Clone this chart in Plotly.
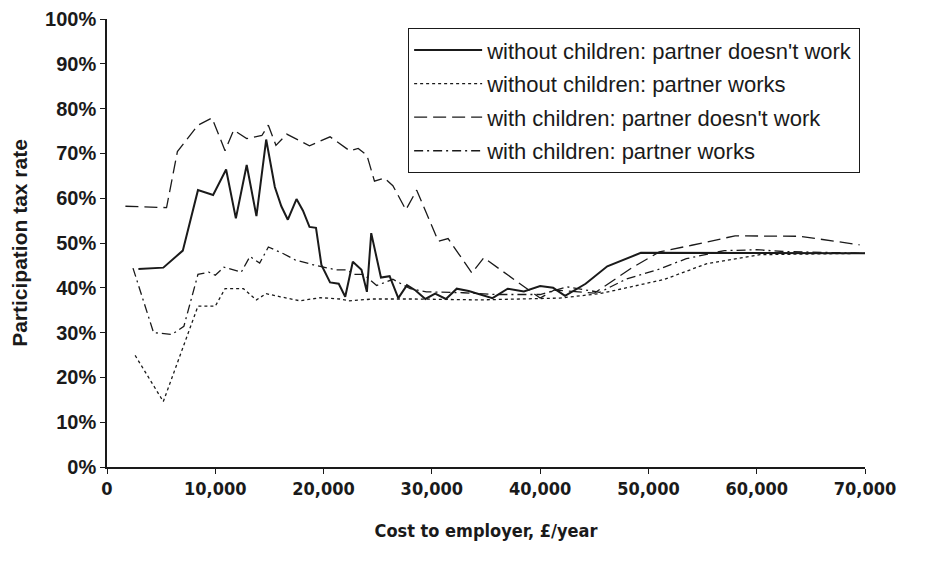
import plotly.graph_objects as go

# cost to employer (£/year) and participation tax rate (%)
nc_nowork_x = [2900, 5200, 7000, 8400, 9800, 11000, 11900, 12900, 13800, 14700, 15500, 16100,
               16700, 17500, 18100, 18700, 19300, 19800, 20600, 21400, 22000, 22700, 23500,
               24000, 24400, 25300, 26100, 26900, 27700, 28500, 29400, 30300, 31300, 32300,
               33400, 34300, 35600, 37000, 38500, 40000, 41200, 42300, 44200, 46200, 49300, 70000]
nc_nowork_y = [44.2, 44.5, 48.3, 61.8, 60.7, 66.4, 55.5, 67.4, 56.0, 73.1, 62.5, 58.2,
               55.2, 59.8, 57.2, 53.6, 53.4, 45.1, 41.2, 40.9, 38.0, 45.8, 44.0,
               39.1, 52.2, 42.3, 42.6, 37.7, 40.6, 39.4, 37.5, 38.7, 37.5, 39.8,
               39.3, 38.7, 37.7, 39.8, 39.2, 40.4, 40.0, 38.2, 40.9, 44.8, 47.8, 47.7]

nc_work_x = [2600, 5200, 8400, 10000, 10900, 12600, 13800, 14700, 16000, 17800, 19700, 21500,
             22400, 24600, 28300, 34400, 41800, 45500, 47600, 51500, 55400, 60300, 70000]
nc_work_y = [24.9, 14.6, 35.9, 35.9, 39.8, 39.8, 37.3, 38.7, 38.0, 37.1, 37.8, 37.5,
             37.1, 37.5, 37.5, 37.3, 37.7, 38.7, 39.8, 41.9, 45.4, 47.4, 47.7]

wc_nowork_x = [1700, 5200, 5500, 6500, 7500, 8400, 9700, 10900, 11700, 12900, 14300, 14900,
               15600, 16600, 18700, 20600, 22400, 23200, 24000, 24700, 25600, 26400, 27600,
               28600, 30600, 31500, 33700, 34800, 37800, 40000, 41300, 45000, 48500, 51000,
               54000, 58000, 64000, 69500]
wc_nowork_y = [58.2, 57.8, 57.9, 70.4, 73.5, 76.3, 77.9, 70.6, 75.2, 73.3, 74.0, 76.3,
               71.8, 74.3, 71.7, 73.7, 70.6, 71.1, 69.6, 63.8, 64.5, 62.8, 57.4,
               61.8, 50.4, 51.0, 43.3, 46.7, 41.5, 37.7, 39.5, 38.8, 44.5, 48.0,
               49.5, 51.6, 51.5, 49.6]

wc_work_x = [2400, 4300, 6000, 7100, 8400, 9400, 10000, 10800, 12400, 13200, 14100, 14900,
             16300, 17400, 19100, 21200, 22100, 22900, 23700, 24900, 26400, 28000, 29500,
             32900, 36000, 40000, 42500, 45500, 48000, 50800, 53500, 57000, 60000, 62500, 70000]
wc_work_y = [44.4, 30.0, 29.6, 31.4, 43.0, 43.5, 42.8, 44.6, 43.5, 47.0, 45.5, 49.1,
             47.6, 46.2, 45.1, 44.0, 44.0, 43.0, 43.0, 40.5, 41.9, 39.8, 39.1,
             38.9, 38.5, 38.5, 40.2, 39.0, 42.0, 44.0, 46.5, 48.3, 48.5, 48.1, 47.7]

names = ["without children: partner doesn't work", "without children: partner works",
         "with children: partner doesn't work", "with children: partner works"]

fig = go.Figure()
series = [
    (nc_nowork_x, nc_nowork_y, "solid", 2),
    (nc_work_x, nc_work_y, "3px,3px", 1.3),
    (wc_nowork_x, wc_nowork_y, "13px,6px", 1.3),
    (wc_work_x, wc_work_y, "9px,4px,2px,4px", 1.3),
]
for i, (xs, ys, dash, w) in enumerate(series):
    fig.add_trace(go.Scatter(
        x=xs, y=ys, mode="lines", name=names[i], legendgroup=str(i),
        line=dict(color="#1a1a1a", width=w, dash=dash)
    ))

cond = "DejaVu Sans Condensed, Liberation Sans Narrow, Liberation Sans, Arial"
# page body has an 8px margin, so margins are offset by that
fig.update_layout(
    width=928, height=566,
    margin=dict(l=99, r=71, t=11, b=107),
    paper_bgcolor="white", plot_bgcolor="white",
    font=dict(family="Liberation Sans, Arial, sans-serif", color="#1a1a1a"),
    legend=dict(
        x=0.397, y=0.98, xanchor="left", yanchor="top",
        bordercolor="#1a1a1a", borderwidth=1.2, bgcolor="white",
        font=dict(size=22), itemwidth=68, tracegroupgap=2,
    ),
    xaxis=dict(
        range=[0, 70000], dtick=10000, tickformat=",", automargin=False,
        showline=True, linecolor="#1a1a1a", linewidth=1.5,
        ticks="outside", ticklen=5, tickcolor="#1a1a1a", showgrid=False, zeroline=False,
        tickfont=dict(family=cond, size=18), ticklabeloverflow="allow",
        tickprefix="<b>", ticksuffix="</b>",
        title=dict(text="<b>Cost to employer, £/year</b>", standoff=26,
                   font=dict(family=cond, size=18)),
    ),
    yaxis=dict(
        range=[0, 100], dtick=10, automargin=False,
        showline=True, linecolor="#1a1a1a", linewidth=1.5,
        ticks="outside", ticklen=5, tickcolor="#1a1a1a", showgrid=False, zeroline=False,
        tickfont=dict(size=20), ticklabeloverflow="allow",
        tickprefix="<b>", ticksuffix="%</b>",
        title=dict(text="<b>Participation tax rate</b>", standoff=20, font=dict(size=21)),
    ),
)

fig.write_html("out.html")
